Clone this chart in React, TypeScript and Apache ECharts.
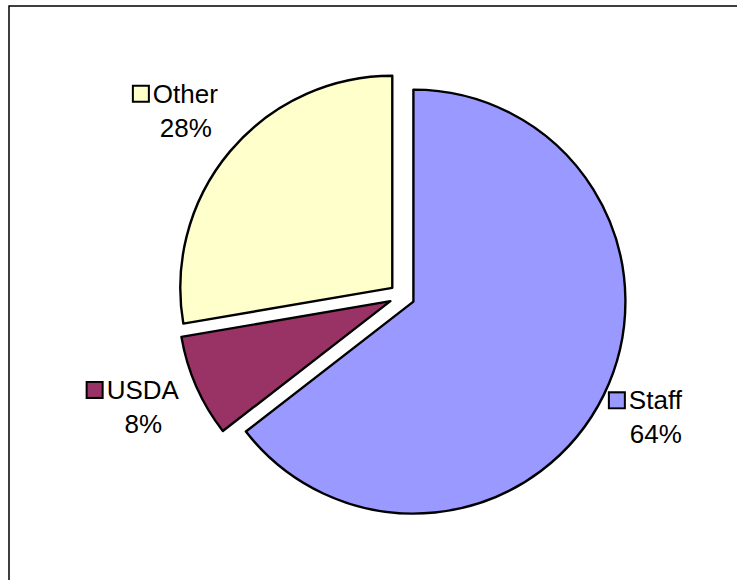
import React, { useEffect, useRef } from "react";
import * as echarts from "echarts";

const categories = ["Staff", "USDA", "Other"];
const shares = [64.5, 7.8, 27.7];
const percentLabels = ["64%", "8%", "28%"];
const colors = ["#9999FF", "#993366", "#FFFFCC"];

const CX = 402;
const CY = 296;
const R = 212;
const OFFSET = 12.7;
const LABEL_DIST = 270;
const FONT = "'Liberation Sans', Arial, sans-serif";

export default function App() {
  const ref = useRef<HTMLDivElement>(null);
  useEffect(() => {
    if (!ref.current) return;
    const chart = echarts.init(ref.current, undefined, { renderer: "svg" });
    const total = shares.reduce((a, b) => a + b, 0);
    const mids: number[] = [];
    let acc = 0;
    shares.forEach((v) => {
      const start = acc;
      acc += (v / total) * 360;
      mids.push(((start + acc) / 2) * (Math.PI / 180));
    });
    const labels = categories.map((name, i) => {
      const a = mids[i];
      const dx = Math.sin(a);
      const dy = -Math.cos(a);
      const d = OFFSET + LABEL_DIST;
      const rich: any = {
        k: {
          width: 14,
          height: 14,
          backgroundColor: colors[i],
          borderColor: "#000",
          borderWidth: 2,
        },
        sp: { width: 20, height: 14 },
        n: { fontSize: 26, fontFamily: FONT, fill: "#000", lineHeight: 34, padding: [0, 0, 0, 5] },
        p: { fontSize: 26, fontFamily: FONT, fill: "#000", lineHeight: 34 },
      };
      return {
        type: "text",
        silent: true,
        x: CX + d * dx - 10,
        y: CY + d * dy - 3,
        style: {
          text: `{k|}{n|${name}}\n{sp|}{p|${percentLabels[i]}}`,
          align: "center",
          verticalAlign: "middle",
          fill: "#000",
          font: `26px ${FONT}`,
          rich,
        },
      };
    });
    chart.setOption({
      animation: false,
      backgroundColor: "#fff",
      graphic: [
        {
          type: "rect",
          silent: true,
          shape: { x: 9, y: 6, width: 900, height: 800 },
          style: { fill: "none", stroke: "#000", lineWidth: 1.5 },
        },
        ...labels,
      ],
      series: [
        {
          type: "pie",
          center: [CX, CY],
          radius: R,
          startAngle: 90,
          clockwise: true,
          selectedMode: "multiple",
          selectedOffset: OFFSET,
          avoidLabelOverlap: false,
          silent: true,
          itemStyle: { borderColor: "#000", borderWidth: 2.4 },
          select: { itemStyle: { borderColor: "#000", borderWidth: 2.4 } },
          emphasis: { disabled: true },
          labelLine: { show: false },
          label: { show: false },
          data: categories.map((name, i) => ({
            name,
            value: shares[i],
            selected: true,
            itemStyle: { color: colors[i] },
          })),
        },
      ],
    });
    return () => chart.dispose();
  }, []);
  return (
    <div style={{ position: "absolute", left: 0, top: 0, width: 737, height: 580 }}>
      <div ref={ref} style={{ width: 737, height: 580 }} />
    </div>
  );
}
